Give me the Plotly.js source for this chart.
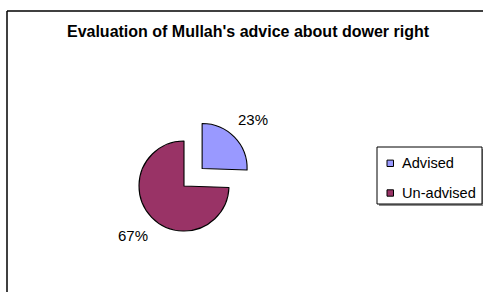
<!DOCTYPE html>
<html>
<head>
<meta charset="utf-8">
<script src="https://cdn.plot.ly/plotly-3.0.1.min.js"></script>
<style>html,body{margin:0;padding:0;background:#fff;}#chart{width:483px;height:292px;}</style>
</head>
<body>
<div id="chart"></div>
<script>
const categories = ["Advised", "Un-advised"];
const values = [23, 67];
const labelTexts = ["23%", "67%"];
const sliceColors = ["#9999FF", "#993366"];
const slicePull = [0.56, 0];
const titleText = "Evaluation of Mullah's advice about dower right";

const W = 483, H = 292;
const FONT = "Liberation Sans, Arial, sans-serif";
// pie box: centre (184,186) px, radius 45 px incl. pull room
const rWanted = 45, cxWanted = 184, cyWanted = 186;
const half = rWanted * (1 + Math.max(...slicePull));
const domainX = [(cxWanted - half) / W, (cxWanted + half) / W];
const domainY = [1 - (cyWanted + half) / H, 1 - (cyWanted - half) / H];

const trace = {
  type: "pie",
  labels: categories,
  values: values,
  textinfo: "none",
  hoverinfo: "label+value",
  sort: false,
  direction: "clockwise",
  rotation: 0,
  pull: slicePull,
  showlegend: false,
  marker: { colors: sliceColors, line: { color: "#000000", width: 1.1 } },
  domain: { x: domainX, y: domainY }
};

// Percentage labels placed outside each slice along its bisector
const total = values.reduce((a, b) => a + b, 0);
const wPx = W * (domainX[1] - domainX[0]);
const hPx = H * (domainY[1] - domainY[0]);
const maxPull = Math.max(...slicePull);
const rPx = Math.min(wPx, hPx) / 2 / (1 + maxPull);
const cxPx = W * (domainX[0] + domainX[1]) / 2;
const cyPx = H * (1 - (domainY[0] + domainY[1]) / 2);
const labelFactor = 1.57;
let cum = 0;
const annotations = values.map((v, i) => {
  const mid = (cum + v / 2) / total * 2 * Math.PI; // clockwise from 12 o'clock
  cum += v;
  const dx = Math.sin(mid), dy = -Math.cos(mid);
  const sx = cxPx + dx * rPx * slicePull[i];
  const sy = cyPx + dy * rPx * slicePull[i];
  const px = sx + dx * rPx * labelFactor;
  const py = sy + dy * rPx * labelFactor;
  return {
    text: labelTexts[i], showarrow: false,
    xref: "paper", yref: "paper", x: px / W, y: 1 - py / H,
    xanchor: "center", yanchor: "middle",
    font: { family: FONT, size: 15, color: "#000000" }
  };
});

// Legend (Excel-style box with small square keys)
const legBox = { x0: 377, x1: 482, y0: 147, y1: 204 };
const legRowY = [163.3, 193];
const shapes = [
  // chart frame
  { type: "line", xref: "paper", yref: "paper", x0: 7 / W, x1: 1.02, y0: 1 - 11 / H, y1: 1 - 11 / H, line: { color: "#000000", width: 1.5 } },
  { type: "line", xref: "paper", yref: "paper", x0: 7 / W, x1: 7 / W, y0: 1 - 11 / H, y1: -0.02, line: { color: "#000000", width: 1.5 } },
  // legend shadow
  { type: "rect", xref: "paper", yref: "paper", x0: (legBox.x0 + 2) / W, x1: (legBox.x1 + 2) / W, y0: 1 - (legBox.y1 + 2) / H, y1: 1 - (legBox.y0 + 2) / H, line: { width: 0 }, fillcolor: "#8c8c8c" },
  // legend box
  { type: "rect", xref: "paper", yref: "paper", x0: legBox.x0 / W, x1: legBox.x1 / W, y0: 1 - legBox.y1 / H, y1: 1 - legBox.y0 / H, line: { color: "#000000", width: 1 }, fillcolor: "#ffffff" }
];
categories.forEach((c, i) => {
  const yc = legRowY[i];
  shapes.push({ type: "rect", xref: "paper", yref: "paper", x0: 387 / W, x1: 393.5 / W, y0: 1 - (yc + 3.2) / H, y1: 1 - (yc - 3.2) / H, line: { color: "#000000", width: 1 }, fillcolor: sliceColors[i] });
  annotations.push({ text: c, showarrow: false, xref: "paper", yref: "paper", x: 399.5 / W, y: 1 - yc / H, xanchor: "left", yanchor: "middle", font: { family: FONT, size: 14.6, color: "#000000" } });
});

const layout = {
  width: W, height: H,
  margin: { l: 0, r: 0, t: 0, b: 0 },
  paper_bgcolor: "#ffffff",
  font: { family: FONT, color: "#000000" },
  title: {
    text: "<b>" + titleText + "</b>",
    font: { family: FONT, size: 16, color: "#000000" },
    x: 248 / W, xanchor: "center", xref: "paper",
    y: 1 - 31 / H, yanchor: "middle", yref: "paper"
  },
  showlegend: false,
  annotations: annotations,
  shapes: shapes
};

Plotly.newPlot("chart", [trace], layout, { displayModeBar: false, staticPlot: true });
</script>
</body>
</html>
